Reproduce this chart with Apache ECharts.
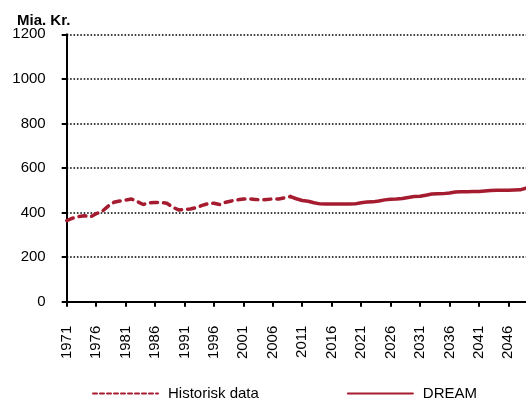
<!DOCTYPE html>
<html>
<head>
<meta charset="utf-8">
<script src="https://cdn.jsdelivr.net/npm/echarts@6/dist/echarts.min.js"></script>
<style>
  html, body { margin: 0; padding: 0; background: #fff; }
  #chart { width: 526px; height: 400px; }
</style>
</head>
<body>
<div id="chart"></div>
<script>
// Years on the category axis
const years = [];
for (let y = 1971; y <= 2049; y++) years.push(String(y));

// Historical figures, 1971-2009 (bn. DKK)
const historisk = [
  364, 375, 382, 386, 380, 395, 405, 428, 446, 452,
  456, 461, 449, 436, 444, 445, 445, 442, 424, 412,
  414, 416, 422, 432, 440, 442, 436, 446, 452, 457,
  461, 461, 459, 457, 459, 461, 461, 466, 472
];

// DREAM projection, 2009-2049 (bn. DKK)
const dream = [
  472, 462, 454, 451, 444, 439, 438, 438, 438, 438,
  438, 439, 444, 447, 448, 452, 457, 460, 461, 463,
  468, 472, 473, 478, 483, 484, 485, 488, 492, 493,
  493, 494, 495, 497, 499, 500, 500, 500, 501, 502,
  510
];

const yTicks = [0, 200, 400, 600, 800, 1000, 1200];

const histStart = years.indexOf('1971');
const dreamStart = years.indexOf('2009');
const histSeries = years.map((_, i) => (i >= histStart && i - histStart < historisk.length) ? historisk[i - histStart] : null);
const dreamSeries = years.map((_, i) => (i >= dreamStart && i - dreamStart < dream.length) ? dream[i - dreamStart] : null);

const red = '#A51C30';
const font = 'Liberation Sans, Arial, sans-serif';

const chart = echarts.init(document.getElementById('chart'), null, { renderer: 'canvas' });
chart.setOption({
  animation: false,
  backgroundColor: '#fff',
  graphic: [{
    type: 'text',
    left: 17,
    top: 13,
    style: { text: 'Mia. Kr.', font: 'bold 15px ' + font, fill: '#000' }
  }],
  grid: { left: 66.7, right: 0, top: 34.3, bottom: 98.3, containLabel: false },
  xAxis: {
    type: 'category',
    data: years,
    boundaryGap: false,
    axisLine: { show: true, lineStyle: { color: '#000', width: 2 } },
    axisTick: { show: true, inside: false, length: 5, interval: 4, lineStyle: { color: '#000', width: 2 } },
    axisLabel: { interval: 4, rotate: 90, margin: 24, color: '#000', fontSize: 15, fontFamily: font },
    splitLine: { show: false }
  },
  yAxis: {
    type: 'value',
    min: yTicks[0],
    max: yTicks[yTicks.length - 1],
    interval: 200,
    axisLine: { show: true, lineStyle: { color: '#000', width: 2 } },
    axisTick: { show: true, length: 5, lineStyle: { color: '#000', width: 2 } },
    axisLabel: { margin: 21, color: '#000', fontSize: 15, fontFamily: font, formatter: v => String(v) },
    splitLine: { show: true, lineStyle: { color: '#000', width: 1.6, type: [1.6, 1.8] } }
  },
  legend: {
    top: 381,
    left: 87,
    itemWidth: 65,
    itemHeight: 14,
    itemGap: 88,
    itemStyle: { opacity: 0 },
    textStyle: { color: '#000', fontSize: 15, fontFamily: font, padding: [0, 0, 0, 5] },
    data: [
      { name: 'Historisk data', lineStyle: { width: 2, type: [4, 3], color: red } },
      { name: 'DREAM', lineStyle: { width: 2, type: 'solid', color: red } }
    ]
  },
  series: [
    {
      name: 'Historisk data',
      type: 'line',
      data: histSeries,
      symbol: 'none',
      connectNulls: false,
      lineStyle: { color: red, width: 3.5, type: [7, 6], cap: 'round' },
      itemStyle: { color: red }
    },
    {
      name: 'DREAM',
      type: 'line',
      data: dreamSeries,
      symbol: 'none',
      connectNulls: false,
      lineStyle: { color: red, width: 3.5, type: 'solid', cap: 'round' },
      itemStyle: { color: red }
    }
  ]
});
</script>
</body>
</html>
